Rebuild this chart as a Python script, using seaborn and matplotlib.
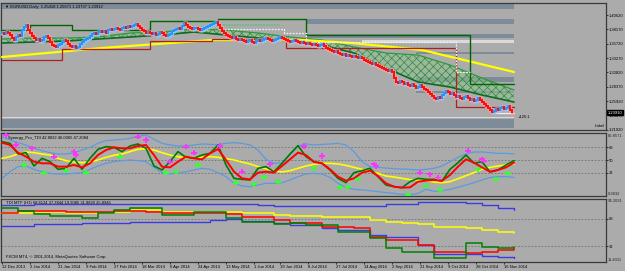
import numpy as np
import matplotlib
matplotlib.use("Agg")
import matplotlib.pyplot as plt
import matplotlib.transforms as mtransforms
import seaborn as sns

# ---------------- data ----------------
close = [
    1.3755, 1.3738, 1.3772, 1.3755, 1.3721, 1.3669, 1.3635, 1.3686, 1.3721, 1.3704,
    1.3806, 1.3857, 1.3891, 1.3806, 1.3755, 1.3704, 1.3669, 1.3635, 1.3652, 1.3618,
    1.3635, 1.3686, 1.3704, 1.3669, 1.3601, 1.3550, 1.3533, 1.3516, 1.3550, 1.3567,
    1.3601, 1.3635, 1.3618, 1.3567, 1.3533, 1.3516, 1.3533, 1.3499, 1.3516, 1.3567,
    1.3601, 1.3635, 1.3652, 1.3669, 1.3704, 1.3738, 1.3755, 1.3738, 1.3772, 1.3789,
    1.3772, 1.3789, 1.3755, 1.3806, 1.3823, 1.3806, 1.3823, 1.3840, 1.3823, 1.3806,
    1.3840, 1.3857, 1.3840, 1.3874, 1.3857, 1.3874, 1.3891, 1.3908, 1.3874, 1.3840,
    1.3806, 1.3789, 1.3755, 1.3772, 1.3755, 1.3738, 1.3755, 1.3721, 1.3738, 1.3772,
    1.3755, 1.3721, 1.3704, 1.3721, 1.3738, 1.3789, 1.3806, 1.3823, 1.3840, 1.3823,
    1.3874, 1.3925, 1.3891, 1.3857, 1.3840, 1.3823, 1.3840, 1.3840, 1.3823, 1.3806,
    1.3823, 1.3840, 1.3857, 1.3874, 1.3891, 1.3908, 1.3925, 1.3942, 1.3891, 1.3840,
    1.3789, 1.3755, 1.3721, 1.3704, 1.3686, 1.3669, 1.3686, 1.3652, 1.3635, 1.3652,
    1.3635, 1.3618, 1.3601, 1.3618, 1.3635, 1.3601, 1.3584, 1.3618, 1.3635, 1.3618,
    1.3635, 1.3652, 1.3669, 1.3652, 1.3635, 1.3618, 1.3635, 1.3652, 1.3669, 1.3686,
    1.3669, 1.3652, 1.3635, 1.3618, 1.3601, 1.3618, 1.3635, 1.3618, 1.3601, 1.3584,
    1.3601, 1.3584, 1.3567, 1.3584, 1.3567, 1.3550, 1.3567, 1.3550, 1.3533, 1.3550,
    1.3567, 1.3533, 1.3499, 1.3482, 1.3465, 1.3448, 1.3430, 1.3448, 1.3413, 1.3396,
    1.3379, 1.3396, 1.3362, 1.3379, 1.3362, 1.3345, 1.3362, 1.3345, 1.3328, 1.3345,
    1.3328, 1.3294, 1.3277, 1.3260, 1.3243, 1.3226, 1.3243, 1.3209, 1.3192, 1.3175,
    1.3158, 1.3141, 1.3123, 1.3106, 1.3123, 1.3089, 1.2986, 1.2918, 1.2901, 1.2935,
    1.2918, 1.2884, 1.2901, 1.2867, 1.2850, 1.2884, 1.2850, 1.2816, 1.2833, 1.2867,
    1.2833, 1.2799, 1.2782, 1.2748, 1.2713, 1.2679, 1.2645, 1.2628, 1.2662, 1.2645,
    1.2696, 1.2730, 1.2765, 1.2748, 1.2713, 1.2730, 1.2696, 1.2662, 1.2679, 1.2645,
    1.2628, 1.2662, 1.2679, 1.2645, 1.2611, 1.2628, 1.2594, 1.2611, 1.2645, 1.2611,
    1.2577, 1.2543, 1.2509, 1.2474, 1.2440, 1.2406, 1.2423, 1.2457, 1.2440, 1.2474,
    1.2491, 1.2457, 1.2474, 1.2509, 1.2440, 1.2391,
]
first_open = 1.3745

date_ticks = [0, 14, 28, 42, 56, 70, 84, 98, 112, 126, 139, 153, 167, 181, 195, 209, 223, 237, 251]
date_labels = ["12 Dec 2013", "2 Jan 2014", "21 Jan 2014", "9 Feb 2014", "27 Feb 2014",
               "18 Mar 2014", "6 Apr 2014", "24 Apr 2014", "13 May 2014", "1 Jun 2014",
               "19 Jun 2014", "8 Jul 2014", "27 Jul 2014", "14 Aug 2014", "2 Sep 2014",
               "21 Sep 2014", "9 Oct 2014", "28 Oct 2014", "16 Nov 2014"]

price_ticks = [1.40620, 1.38170, 1.35720, 1.33270, 1.30820, 1.28370, 1.25920, 1.23470, 1.21020]

# Moving-average ribbon edges (every 16 bars)
ribbon_idx = [0, 16, 32, 48, 64, 80, 96, 112, 128, 144, 160, 176, 192, 208, 224, 240, 256]
ribbon_upper = [1.3652, 1.3669, 1.3669, 1.3686, 1.3755, 1.3772, 1.3823, 1.3806, 1.3755,
                1.3686, 1.3635, 1.3516, 1.3413, 1.3379, 1.3209, 1.2986, 1.2782]
ribbon_lower = [1.3584, 1.3601, 1.3618, 1.3652, 1.3686, 1.3721, 1.3772, 1.3721, 1.3669,
                1.3618, 1.3550, 1.3413, 1.3157, 1.2918, 1.2833, 1.2696, 1.2577]

# Long trend line (yellow)
trend_idx = [0, 50, 105, 150, 175, 210, 256]
trend_val = [1.3345, 1.3499, 1.3635, 1.3635, 1.3584, 1.3465, 1.3089]

# Step levels
green_step_idx = [0, 14, 35, 74, 108, 152, 234, 256]
green_step_val = [1.3806, 1.3891, 1.3806, 1.3960, 1.3994, 1.3721, 1.2884, 1.2884]
red_step_idx = [0, 30, 74, 105, 142, 227, 256]
red_step_val = [1.3294, 1.3482, 1.3618, 1.3652, 1.3499, 1.2492, 1.2492]
white_step_idx = [108, 141, 152, 227, 234]
white_step_val = [1.3823, 1.3755, 1.3601, 1.3089, 1.3089]
white_low_idx = [245, 256]
white_low_val = [1.2389, 1.2389]
dash_idx = [108, 139]
dash_val = [1.3891, 1.3891]

# Support / resistance zones: (top, bottom, first bar, last bar)
zone_top = [1.4250, 1.3994, 1.3738, 1.3430, 1.3004, 1.2765, 1.2287]
zone_bot = [1.4164, 1.3908, 1.3669, 1.3396, 1.2918, 1.2731, 1.2133]
zone_start = [0, 152, 152, 207, 207, 207, 0]
zone_end = [256, 256, 256, 256, 256, 256, 256]
light_zone_top = [1.3635, 1.2321]
light_zone_bot = [1.3584, 1.2304]
light_zone_start = [180, 0]
light_zone_end = [256, 256]

# TDI oscillator (every 4 bars)
tdi_idx = list(range(0, 257, 4))
tdi_green = [75.4, 73.1, 58.3, 60.2, 41.7, 52.3, 47.7, 37.1, 38.5, 52.3, 37.1, 52.3, 64.8, 68.5,
             67.5, 61.6, 69.4, 72.2, 66.2, 41.7, 36.2, 47.7, 61.6, 53.7, 52.3, 56.9, 59.2,
             70.8, 43.1, 24.6, 23.2, 22.3, 38.5, 40.8, 33.8, 45.4, 58.3, 69.9, 54.6, 47.7, 45.4,
             36.2, 24.6, 18.6, 32.5, 35.2, 38.5, 26.9, 15.4, 13.1, 11.7, 20.0, 24.6,
             23.2, 23.2, 20.9, 37.1, 46.3, 56.9, 45.4, 47.7, 33.4, 36.2, 43.1, 49.1]
tdi_red = [74.0, 70.8, 60.2, 54.6, 47.7, 45.4, 45.4, 40.8, 40.8, 43.1, 39.8, 45.4, 56.9, 63.8,
           67.5, 66.2, 66.2, 69.4, 70.8, 56.9, 40.8, 39.8, 47.7, 54.6, 52.3, 50.9, 59.2,
           65.2, 50.0, 33.8, 24.6, 23.2, 32.5, 33.8, 32.5, 41.7, 50.9, 60.2, 56.9, 47.2, 45.4,
           37.1, 26.9, 21.4, 24.6, 32.5, 35.2, 27.8, 17.7, 13.1, 11.7, 12.1, 20.0,
           21.4, 22.3, 21.4, 29.2, 40.8, 50.9, 46.3, 39.8, 33.8, 36.2, 39.8, 46.3]
tdi_yellow = [52.3, 54.6, 58.3, 61.1, 60.2, 58.3, 56.9, 52.3, 49.1, 47.2, 46.3, 47.2, 50.0, 53.7,
              56.5, 58.3, 61.6, 64.8, 65.7, 63.8, 60.2, 56.9, 54.6, 52.8, 52.3, 53.7, 54.6,
              53.7, 51.8, 50.0, 47.2, 44.5, 40.8, 38.0, 35.2, 33.4, 35.2, 38.5, 41.7, 44.0, 45.4,
              45.4, 44.5, 42.6, 39.8, 37.1, 34.3, 31.5, 27.8, 26.4, 24.6, 22.8, 21.8,
              21.4, 19.5, 18.6, 20.0, 24.1, 28.3, 32.5, 37.1, 39.8, 41.7, 43.1, 44.5]
tdi_band_up = [82.3, 77.7, 74.0, 70.8, 66.2, 62.9, 60.2, 58.3, 58.3, 60.2, 63.8, 67.5, 73.1, 76.8,
               77.7, 78.6, 80.0, 83.2, 84.6, 78.6, 73.1, 70.8, 69.4, 69.4, 70.8, 72.2, 71.7,
               71.2, 73.1, 74.0, 73.1, 70.8, 63.8, 50.9, 45.4, 46.3, 56.9, 69.4, 72.2, 70.8, 71.7,
               72.2, 73.1, 70.8, 61.6, 47.7, 40.8, 39.8, 38.9, 38.0, 37.5, 37.1, 36.2,
               37.1, 38.5, 41.7, 47.7, 53.7, 58.3, 61.1, 61.1, 60.2, 59.2, 59.2, 58.3]
tdi_band_dn = [24.6, 33.8, 40.8, 41.7, 37.1, 33.8, 31.5, 30.6, 30.6, 31.5, 32.5, 37.1, 41.7, 45.4,
               47.7, 49.1, 50.0, 49.1, 47.7, 39.8, 32.5, 30.6, 32.5, 33.8, 36.2, 38.5, 37.1,
               32.5, 26.9, 17.7, 14.0, 13.1, 15.4, 17.7, 17.7, 18.6, 22.3, 26.9, 30.6, 31.5, 30.6,
               26.0, 17.7, 12.1, 9.4, 8.5, 7.5, 6.2, 4.8, 3.8, 2.4, 2.0, 3.8,
               9.4, 6.6, 7.5, 9.4, 12.1, 15.4, 18.6, 22.3, 25.6, 26.9, 26.9, 26.0]
tdi_levels = [68, 50, 32]

sell_idx = [2, 7, 15, 26, 36, 37, 68, 72, 84, 92, 96, 109, 120, 134, 151, 160, 186, 187,
            209, 214, 218, 233, 240, 241]
sell_val = [84.6, 70.8, 66.2, 54.6, 61.6, 56.9, 82.3, 77.7, 47.7, 68.5, 60.2, 69.4, 33.8, 44.0,
            69.4, 55.6, 44.0, 41.7, 32.5, 30.2, 25.6, 62.9, 50.9, 49.0]
buy_idx = [11, 21, 32, 42, 59, 82, 87, 98, 117, 126, 131, 138, 156, 169, 173, 178, 203,
           212, 219, 238, 247, 253]
buy_val = [43.1, 32.5, 35.2, 32.5, 54.6, 32.5, 33.8, 43.1, 18.6, 16.3, 26.0, 20.0, 38.5, 12.1,
           12.1, 23.2, 1.5, 14.4, 8.4, 37.1, 23.2, 31.5]

# TDI MTF (every 8 bars, stepped)
mtf_idx = list(range(0, 257, 8))
mtf_blue_up = [86.3, 86.3, 87.2, 87.2, 87.2, 87.2, 87.2, 87.2, 87.2, 87.2, 87.2, 87.2, 87.2, 87.2,
               87.2, 87.2, 86.3, 85.0, 85.0, 85.0, 85.0, 85.0, 85.0, 85.0, 87.2, 87.2, 89.9, 89.9,
               89.9, 88.6, 86.3, 82.0, 79.7]
mtf_yellow = [75.4, 75.4, 77.5, 77.5, 75.4, 75.4, 75.4, 77.5, 79.7, 79.7, 77.5, 77.5, 77.5, 77.5,
              77.5, 75.4, 75.4, 73.2, 72.3, 72.3, 70.9, 70.9, 70.9, 66.6, 64.4, 62.3, 61.0, 57.8,
              57.8, 55.7, 53.5, 51.2, 49.1]
mtf_red = [75.4, 78.4, 78.4, 78.4, 76.7, 76.7, 76.7, 78.4, 78.4, 77.5, 75.4, 75.4, 75.4, 75.4,
           74.1, 70.9, 70.9, 66.6, 62.3, 62.3, 57.8, 57.8, 55.7, 44.7, 40.3, 40.3, 33.8, 24.2,
           24.2, 22.8, 25.0, 27.2, 30.2]
mtf_green = [82.8, 78.4, 74.1, 72.3, 72.3, 68.8, 75.4, 79.7, 82.8, 82.8, 73.2, 73.2, 76.7, 76.7,
             68.8, 64.4, 64.4, 61.0, 62.3, 60.0, 60.0, 51.2, 51.2, 42.6, 29.4, 25.0, 25.0, 16.3,
             17.1, 36.0, 31.5, 29.4, 31.5]
mtf_blue_dn = [59.1, 59.1, 61.0, 61.0, 61.0, 62.3, 62.3, 62.3, 64.4, 64.4, 64.4, 64.4, 64.4, 66.6,
               67.9, 65.3, 65.3, 62.3, 60.0, 60.0, 55.7, 53.5, 53.5, 46.9, 44.7, 44.7, 33.8, 21.5,
               21.5, 21.5, 19.3, 18.0, 16.3]
mtf_levels = [68, 32]

# ---------------- style ----------------
sns.set_theme(style="white")
plt.rcParams["font.family"] = ["Liberation Sans", "DejaVu Sans"]
plt.rcParams["hatch.linewidth"] = 0.5
BG = "#ABABAB"
SPINE = "#3A3A3A"
FS = 3.0

fig = plt.figure(figsize=(6.25, 2.71), dpi=100)
fig.patch.set_facecolor(BG)
L, W = 0.0016, 0.968
ax1 = fig.add_axes([L, 1 - 130 / 271, W, 127 / 271])
ax2 = fig.add_axes([L, 1 - 196 / 271, W, 63 / 271])
ax3 = fig.add_axes([L, 1 - 262 / 271, W, 63 / 271])

for ax in (ax1, ax2, ax3):
    ax.set_facecolor(BG)
    ax.set_xlim(-0.5, 302)
    for s in ax.spines.values():
        s.set_color(SPINE)
        s.set_linewidth(0.9)
    ax.yaxis.tick_right()
    ax.tick_params(axis="y", labelsize=FS, length=1.5, width=0.5, pad=0.8, colors="black")
    ax.grid(False)

# ---------------- main price panel ----------------
ax1.set_ylim(1.2099, 1.4267)
for t, b, s, e in zip(zone_top, zone_bot, zone_start, zone_end):
    ax1.fill_between([s, e], [b, b], [t, t], color="#7E8B98", lw=0, zorder=1)
for t, b, s, e in zip(light_zone_top, light_zone_bot, light_zone_start, light_zone_end):
    ax1.fill_between([s, e], [b, b], [t, t], color="#DADADA", lw=0, zorder=1)

ax1.fill_between(ribbon_idx, ribbon_lower, ribbon_upper, facecolor=(0.55, 0.78, 0.55, 0.45),
                 edgecolor="#2E8B3E", hatch="xxxx", lw=0, zorder=2)
sns.lineplot(x=ribbon_idx, y=ribbon_upper, ax=ax1, color="#2E9A3E", lw=0.9, zorder=3)
sns.lineplot(x=ribbon_idx, y=ribbon_lower, ax=ax1, color="#0B6B1E", lw=1.2, zorder=3)

sns.lineplot(x=trend_idx, y=trend_val, ax=ax1, color="#FFFF00", lw=1.6, zorder=3)

ax1.step(green_step_idx, green_step_val, where="post", color="#006400", lw=1.0, zorder=4)
ax1.step(red_step_idx, red_step_val, where="post", color="#B0201E", lw=0.9, zorder=4)
ax1.step(white_step_idx, white_step_val, where="post", color="#F2F2F2", lw=0.9,
         ls=(0, (1.5, 1)), zorder=4)
ax1.plot(white_low_idx, white_low_val, color="#F2F2F2", lw=0.9, zorder=4)
ax1.plot(dash_idx, dash_val, color="#5FBF8A", lw=1.2, ls=(0, (1, 0.6)), zorder=4)

opens = [first_open] + close[:-1]
for i, (o, c) in enumerate(zip(opens, close)):
    up = c >= o
    lo, hi = min(o, c), max(o, c)
    halo = "#8FC8F2" if up else "#F3A3A0"
    body = "#1E90FF" if up else "#FF0000"
    ax1.vlines(i, lo - 0.0032, hi + 0.0032, color=halo, lw=2.0, zorder=5)
    ax1.vlines(i, lo - 0.0010, hi + 0.0010, color=body, lw=1.3, zorder=6)

ax1.set_yticks(price_ticks)
ax1.set_yticklabels([f"{p:.5f}" for p in price_ticks])
ax1.set_xticks([])
ax1.text(0.006, 0.985, "\u25BC EURUSD,Daily  1.25418 1.25671 1.23737 1.23912",
         transform=ax1.transAxes, fontsize=FS, va="top", ha="left", color="black", zorder=10)
trans1 = mtransforms.blended_transform_factory(ax1.transAxes, ax1.transData)
ax1.text(1.003, close[-1], f"{close[-1]:.5f}", transform=trans1, fontsize=FS, color="white",
         va="center", ha="left", zorder=10,
         bbox=dict(boxstyle="square,pad=0.12", fc="black", ec="black"))
ax1.text(258, close[-1] - 0.0075, "+125:1", fontsize=FS, color="black", va="center", ha="left",
         zorder=10)
ax1.text(0.997, 0.015, "Label", transform=ax1.transAxes, fontsize=FS, color="black",
         ha="right", va="bottom", zorder=10)

# ---------------- TDI panel ----------------
ax2.set_ylim(0.14, 87.4)
for lv in tdi_levels:
    ax2.axhline(lv, color="#707070", lw=0.6, ls=(0, (2, 2)), zorder=1)
sns.lineplot(x=tdi_idx, y=tdi_band_up, ax=ax2, color="#5A9BE0", lw=0.9, zorder=2)
sns.lineplot(x=tdi_idx, y=tdi_band_dn, ax=ax2, color="#5A9BE0", lw=0.9, zorder=2)
sns.lineplot(x=tdi_idx, y=tdi_yellow, ax=ax2, color="#FFFF00", lw=1.2, zorder=3)
sns.lineplot(x=tdi_idx, y=tdi_green, ax=ax2, color="#007A00", lw=1.2, zorder=4)
sns.lineplot(x=tdi_idx, y=tdi_red, ax=ax2, color="#FF0000", lw=1.4, zorder=5)
sns.scatterplot(x=sell_idx, y=sell_val, ax=ax2, marker="P", s=14, color="#FF33FF",
                edgecolor="none", zorder=6)
sns.scatterplot(x=buy_idx, y=buy_val, ax=ax2, marker="P", s=14, color="#33FF33",
                edgecolor="none", zorder=6)
ax2.set_yticks(tdi_levels)
ax2.set_yticklabels([str(v) for v in tdi_levels])
ax2.set_xticks([])
ax2.text(0.012, 0.955, "Synergy_Pro_TDI 42.8022 46.0065 47.2084", transform=ax2.transAxes,
         fontsize=FS, va="top", ha="left", color="black")
ax2.text(1.003, 0.955, "86.8571", transform=ax2.transAxes, fontsize=FS, va="center", ha="left")
ax2.text(1.003, 0.03, "0.2832", transform=ax2.transAxes, fontsize=FS, va="center", ha="left")

# ---------------- TDI MTF panel ----------------
ax3.set_ylim(11.4011, 94.2031)
for lv in mtf_levels:
    ax3.axhline(lv, color="#707070", lw=0.6, ls=(0, (2, 2)), zorder=1)
ax3.step(mtf_idx, mtf_blue_up, where="post", color="#3B3BE6", lw=1.0, zorder=2)
ax3.step(mtf_idx, mtf_blue_dn, where="post", color="#3B3BE6", lw=1.0, zorder=2)
ax3.step(mtf_idx, mtf_yellow, where="post", color="#FFFF00", lw=1.1, zorder=3)
ax3.step(mtf_idx, mtf_red, where="post", color="#FF0000", lw=1.1, zorder=4)
ax3.step(mtf_idx, mtf_green, where="post", color="#008000", lw=1.1, zorder=5)
ax3.set_yticks(mtf_levels)
ax3.set_yticklabels([str(v) for v in mtf_levels])
ax3.text(1.003, 0.965, "94.2031", transform=ax3.transAxes, fontsize=FS, va="center", ha="left")
ax3.text(1.003, 0.035, "11.4011", transform=ax3.transAxes, fontsize=FS, va="center", ha="left")
ax3.text(0.008, 0.965, "TDI MTF (H1) 68.6124 37.3844 19.9085 31.8820 25.8945",
         transform=ax3.transAxes, fontsize=FS, va="top", ha="left", color="black")
ax3.text(0.008, 0.04, "FXCM MT4, \u00a9 2001-2014, MetaQuotes Software Corp.",
         transform=ax3.transAxes, fontsize=FS, va="bottom", ha="left", color="black")

ax3.set_xticks(date_ticks)
ax3.set_xticklabels(date_labels, ha="left", fontsize=FS)
ax3.tick_params(axis="x", length=1.5, width=0.5, pad=0.8, colors="black", bottom=True)

fig.savefig("out.png", dpi=100, facecolor=BG)
